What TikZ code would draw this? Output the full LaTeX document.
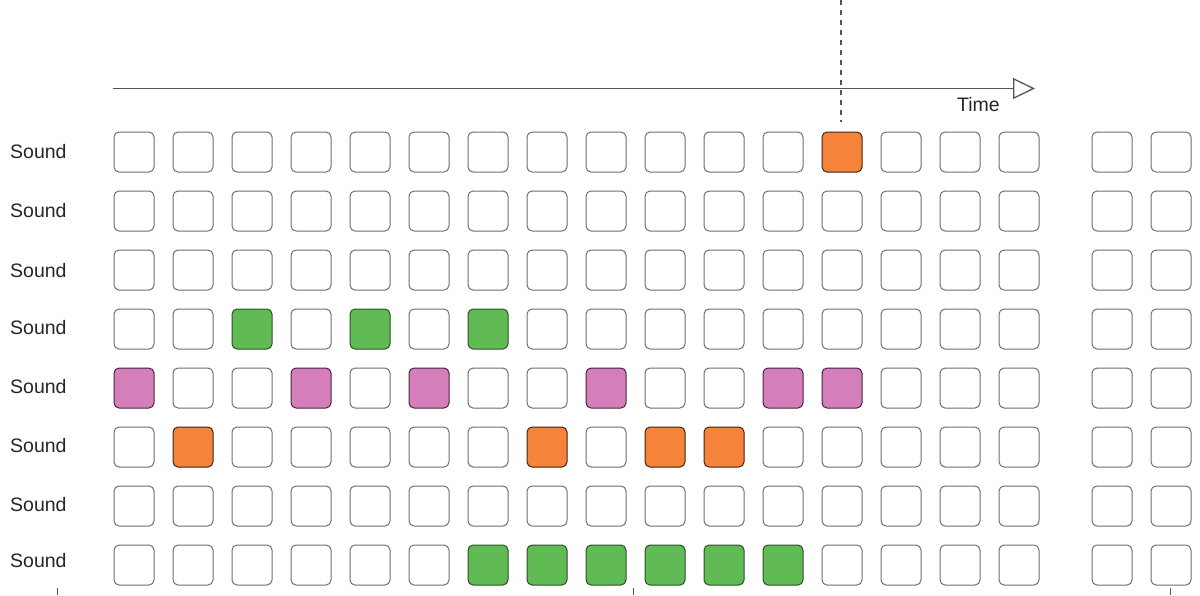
\documentclass[tikz,border=0pt]{standalone}
\usepackage{fontspec}
\setmainfont{Liberation Sans}
\usetikzlibrary{arrows.meta}
\definecolor{cellgray}{HTML}{6E6E6E}
\definecolor{axisgray}{HTML}{555555}
\definecolor{orfill}{HTML}{F5833A}
\definecolor{ordraw}{HTML}{3E2414}
\definecolor{grfill}{HTML}{60BB55}
\definecolor{grdraw}{HTML}{2C4F28}
\definecolor{pkfill}{HTML}{D47FB9}
\definecolor{pkdraw}{HTML}{4A2040}
\newcommand\cellrow[2]{%
  \foreach \st [count=\c from 0] in {#2}{%
    \pgfmathsetmacro\xx{\c<16 ? 113.5+59*\c : 1091.5+59*(\c-16)}%
    \node[cell,\st] (c#1-\c) at (\xx,{131.5+59*#1}) {};
  }%
}
\begin{document}
\begin{tikzpicture}[x=1pt,y=-1pt,
  cell/.style={draw=cellgray, fill=white, rounded corners=5pt,
    minimum width=40pt, minimum height=40pt, line width=1pt,
    inner sep=0pt, anchor=north west},
  cw/.style={},
  co/.style={fill=orfill, draw=ordraw},
  cg/.style={fill=grfill, draw=grdraw},
  cp/.style={fill=pkfill, draw=pkdraw},
  lbl/.style={font=\fontsize{19.5}{22}\selectfont, text=black!85, inner sep=0pt},
  axis/.style={draw=axisgray, line width=1.3pt},
  tick/.style={draw=axisgray, line width=1pt}
]
\useasboundingbox (0,0) rectangle (1200,595);

% time axis
\coordinate (tstart) at (113,88.5);
\coordinate (tend) at (1035,88.5);
\draw[axis, -{Triangle[open,length=22pt,width=21pt]}] (tstart) -- (tend);
\node[lbl] (tl) at (978.5,104.5) {Time};

% playhead
\coordinate (dtop) at (841,0);
\coordinate (dbot) at (841,122);
\draw[axis, line width=1.2pt, dash pattern=on 5pt off 5pt] (dtop) -- (dbot);

% labels
\foreach \yy [count=\r] in {152,211,271,328,387,446,505,561}
  \node[lbl, anchor=west] (s\r) at (10,\yy) {Sound};

% cells
\cellrow{0}{cw,cw,cw,cw,cw,cw,cw,cw,cw,cw,cw,cw,co,cw,cw,cw,cw,cw}
\cellrow{1}{cw,cw,cw,cw,cw,cw,cw,cw,cw,cw,cw,cw,cw,cw,cw,cw,cw,cw}
\cellrow{2}{cw,cw,cw,cw,cw,cw,cw,cw,cw,cw,cw,cw,cw,cw,cw,cw,cw,cw}
\cellrow{3}{cw,cw,cg,cw,cg,cw,cg,cw,cw,cw,cw,cw,cw,cw,cw,cw,cw,cw}
\cellrow{4}{cp,cw,cw,cp,cw,cp,cw,cw,cp,cw,cw,cp,cp,cw,cw,cw,cw,cw}
\cellrow{5}{cw,co,cw,cw,cw,cw,cw,co,cw,co,co,cw,cw,cw,cw,cw,cw,cw}
\cellrow{6}{cw,cw,cw,cw,cw,cw,cw,cw,cw,cw,cw,cw,cw,cw,cw,cw,cw,cw}
\cellrow{7}{cw,cw,cw,cw,cw,cw,cg,cg,cg,cg,cg,cg,cw,cw,cw,cw,cw,cw}

% cut-off ticks at bottom
\coordinate (k1a) at (57,588); \coordinate (k1b) at (57,595);
\coordinate (k2a) at (633,588); \coordinate (k2b) at (633,595);
\coordinate (k3a) at (1170,588); \coordinate (k3b) at (1170,595);
\draw[tick] (k1a) -- (k1b);
\draw[tick] (k2a) -- (k2b);
\draw[tick] (k3a) -- (k3b);
\end{tikzpicture}
\end{document}
